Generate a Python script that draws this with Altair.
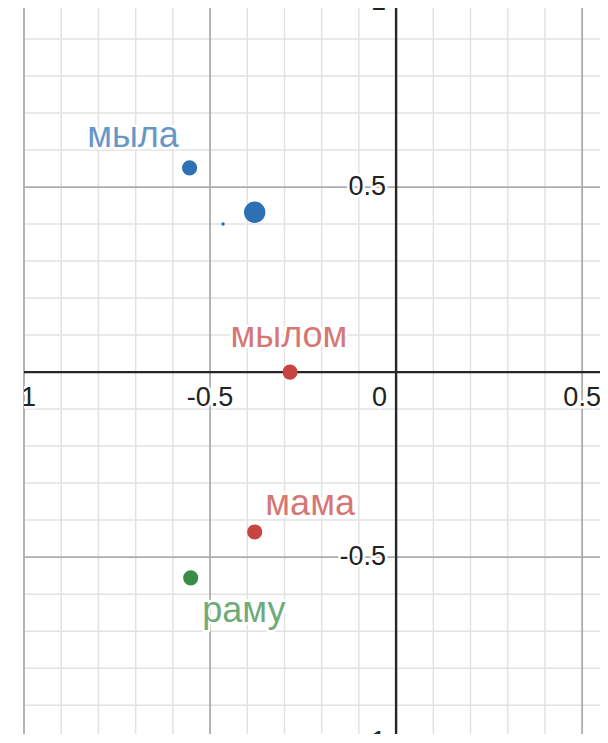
import altair as alt
import pandas as pd

W, H = 576, 726
XDOM = [-1.0, 0.548]
YDOM = [-0.978, 0.984]

# points
pt_x = [-0.555, -0.38, -0.465, -0.285, -0.38, -0.552]
pt_y = [0.552, 0.432, 0.40, 0.0, -0.432, -0.556]
pt_size = [230, 460, 12, 230, 230, 230]
pt_color = ["#2d70b3", "#2d70b3", "#2d70b3", "#c74440", "#c74440", "#388c46"]

# word labels
lab_text = ["мыла", "мылом", "мама", "раму"]
lab_x = [-0.707, -0.288, -0.231, -0.409]
lab_y = [0.608, 0.068, -0.386, -0.676]
lab_color = ["#2d70b3", "#c74440", "#c74440", "#388c46"]

# grid
minor_x = [-1.0, -0.9, -0.8, -0.7, -0.6, -0.4, -0.3, -0.2, -0.1, 0.1, 0.2, 0.3, 0.4]
minor_y = [0.9, 0.8, 0.7, 0.6, 0.4, 0.3, 0.2, 0.1, -0.1, -0.2, -0.3, -0.4, -0.6, -0.7, -0.8, -0.9]
major_x = [-1.0, -0.5, 0.5]
major_y = [1.0, 0.5, -0.5, -1.0]
axis_v = [0.0]

# tick labels
xtick_vals = [-1.0, -0.5, 0.5]
xtick_text = ["-1", "-0.5", "0.5"]
ytick_vals = [1.0, 0.5, -0.5, -1.0]
ytick_text = ["1", "0.5", "-0.5", "-1"]

xs = alt.Scale(domain=XDOM, nice=False, zero=False)
ys = alt.Scale(domain=YDOM, nice=False, zero=False)


def vlines(vals, color, sw):
    return alt.Chart(pd.DataFrame({"v": vals})).mark_rule(color=color, strokeWidth=sw).encode(
        x=alt.X("v:Q", scale=xs, axis=None), y=alt.value(0), y2=alt.value(H))


def hlines(vals, color, sw):
    return alt.Chart(pd.DataFrame({"v": vals})).mark_rule(color=color, strokeWidth=sw).encode(
        y=alt.Y("v:Q", scale=ys, axis=None), x=alt.value(0), x2=alt.value(W))


layers = [
    vlines(minor_x, "#e2e2e2", 1.5),
    hlines(minor_y, "#e2e2e2", 1.5),
    vlines(major_x, "#acacac", 1.8),
    hlines(major_y, "#acacac", 1.8),
    vlines(axis_v, "#262626", 2.4),
    hlines(axis_v, "#262626", 2.4),
]

TFONT = "Liberation Sans"
xt = pd.DataFrame({"x": xtick_vals, "y": [0.0] * len(xtick_vals), "t": xtick_text})
yt = pd.DataFrame({"x": [0.0] * len(ytick_vals), "y": ytick_vals, "t": ytick_text})
zt = pd.DataFrame({"x": [0.0], "y": [0.0], "t": ["0"]})

for df, kw in [
    (xt, dict(align="center", baseline="alphabetic", dy=34)),
    (yt, dict(align="right", baseline="middle", dx=-10)),
    (zt, dict(align="right", baseline="alphabetic", dx=-9, dy=34)),
]:
    for halo in (True, False):
        extra = dict(stroke="white", strokeWidth=5, strokeJoin="round") if halo else {}
        layers.append(
            alt.Chart(df).mark_text(font=TFONT, fontSize=27, color="#222222", clip=True, **kw, **extra).encode(
                x=alt.X("x:Q", scale=xs, axis=None),
                y=alt.Y("y:Q", scale=ys, axis=None),
                text="t:N",
            )
        )

pts = pd.DataFrame({"x": pt_x, "y": pt_y, "s": pt_size, "c": pt_color})
layers.append(
    alt.Chart(pts).mark_circle(opacity=1).encode(
        x=alt.X("x:Q", scale=xs, axis=None),
        y=alt.Y("y:Q", scale=ys, axis=None),
        size=alt.Size("s:Q", scale=None),
        color=alt.Color("c:N", scale=None),
    )
)

labs = pd.DataFrame({"x": lab_x, "y": lab_y, "t": lab_text, "c": lab_color})
layers.append(
    alt.Chart(labs).mark_text(font=TFONT, fontSize=36, align="center", baseline="alphabetic",
                              stroke="white", strokeWidth=5, strokeJoin="round", clip=True).encode(
        x=alt.X("x:Q", scale=xs, axis=None),
        y=alt.Y("y:Q", scale=ys, axis=None),
        text="t:N",
    )
)
layers.append(
    alt.Chart(labs).mark_text(font=TFONT, fontSize=36, align="center", baseline="alphabetic",
                              opacity=0.72, clip=True).encode(
        x=alt.X("x:Q", scale=xs, axis=None),
        y=alt.Y("y:Q", scale=ys, axis=None),
        text="t:N",
        color=alt.Color("c:N", scale=None),
    )
)

chart = alt.layer(*layers).properties(
    width=W, height=H, autosize="none",
    padding={"left": 16, "top": 0, "right": 0, "bottom": 0},
    background="white",
).configure_view(stroke=None)

chart.save("out.html", embed_options={"renderer": "svg", "actions": False})
